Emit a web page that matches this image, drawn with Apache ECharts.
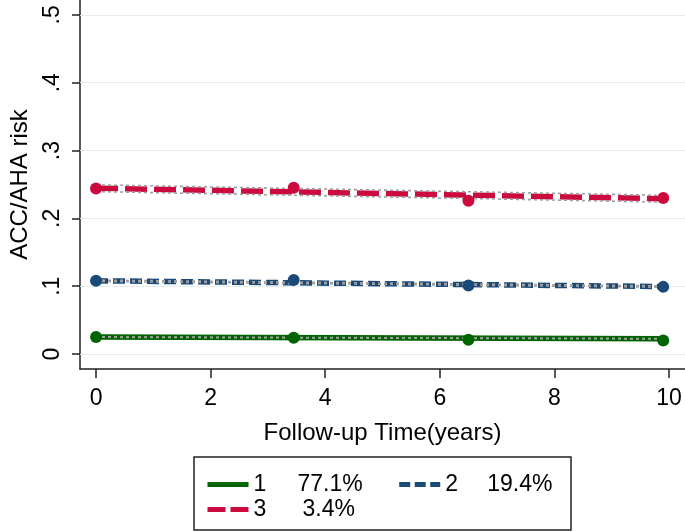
<!DOCTYPE html>
<html>
<head>
<meta charset="utf-8">
<script src="https://cdn.jsdelivr.net/npm/echarts@6/dist/echarts.min.js"></script>
<style>html,body{margin:0;padding:0;background:#fff}#c{width:685px;height:532px}</style>
</head>
<body>
<div id="c"></div>
<script>
// ---- data ----
const obsTime = [0, 3.45, 6.5, 9.9];
const obs1 = [0.025, 0.024, 0.021, 0.020];
const obs2 = [0.108, 0.109, 0.101, 0.099];
const obs3 = [0.244, 0.245, 0.226, 0.230];
const fitTime = [0, 9.9];
const fit1 = [0.025, 0.0225];
const fit2 = [0.108, 0.0995];
const fit3 = [0.2445, 0.229];
const fit1Lo = [0.0247, 0.0222];
const fit1Hi = [0.0253, 0.0228];
const fit2Lo = [0.1070, 0.0985];
const fit2Hi = [0.1090, 0.1005];
const fit3Lo = [0.2395, 0.224];
const fit3Hi = [0.2495, 0.234];
const xTicks = [0, 2, 4, 6, 8, 10];
const yTicks = [0, 0.1, 0.2, 0.3, 0.4, 0.5];
const yTickLabels = ['0', '.1', '.2', '.3', '.4', '.5'];
const groupNames = ['1', '2', '3'];
const groupPct = ['77.1%', '19.4%', '3.4%'];

const colors = ['#006400', '#1b4a78', '#cc0a3e'];
const dashes = ['solid', [12, 5], [22, 7]];
const legendDashes = ['solid', [11, 4.5], [18, 5]];
const FONT = 'Liberation Sans, Arial, sans-serif';

function pairs(xs, ys) { return xs.map((x, i) => [x, ys[i]]); }

const fits = [fit1, fit2, fit3];
const los = [fit1Lo, fit2Lo, fit3Lo];
const his = [fit1Hi, fit2Hi, fit3Hi];
const obs = [obs1, obs2, obs3];

const series = [];
for (let g = 0; g < 3; g++) {
  series.push({
    name: groupNames[g], type: 'line', data: pairs(fitTime, fits[g]),
    symbol: 'none', z: 2,
    lineStyle: { color: colors[g], width: 5.5, type: dashes[g], cap: 'butt' },
    itemStyle: { color: colors[g] }
  });
  [los[g], his[g]].forEach(arr => series.push({
    name: 'ci' + g, type: 'line', data: pairs(fitTime, arr), symbol: 'none', z: 3,
    lineStyle: { color: '#a0a0a0', width: 1.6, type: [3, 3] }
  }));
  series.push({
    name: 'obs' + g, type: 'scatter', data: pairs(obsTime, obs[g]),
    symbol: 'circle', symbolSize: 12, z: 4,
    itemStyle: { color: colors[g], opacity: 1 }
  });
}

const padW = { '1': 44, '2': 42, '3': 49 };
function fmt(name) {
  const i = groupNames.indexOf(name);
  return '{n' + name + '|' + name + '}{p|' + groupPct[i] + '}';
}
const rich = { p: { fontSize: 23, fontFamily: FONT, color: '#000' } };
groupNames.forEach(n => rich['n' + n] = { width: padW[n], fontSize: 23, fontFamily: FONT, color: '#000' });

function makeLegend(idx, top) {
  return {
    orient: 'horizontal', left: 205, top: top,
    itemWidth: 41, itemHeight: 14, itemGap: 34, padding: 0,
    formatter: fmt, selectedMode: false,
    textStyle: { fontSize: 23, fontFamily: FONT, color: '#000', rich: rich },
    data: idx.map(g => ({
      name: groupNames[g],
      itemStyle: { opacity: 0 },
      lineStyle: { width: 5, type: legendDashes[g], color: colors[g], opacity: 1 }
    }))
  };
}

const chart = echarts.init(document.getElementById('c'), null, { renderer: 'canvas' });
chart.setOption({
  animation: false,
  backgroundColor: '#fff',
  grid: { left: 80, right: 0, top: 0, bottom: 163, containLabel: false },
  xAxis: {
    type: 'value', min: -0.28, max: 10.28,
    name: 'Follow-up Time(years)', nameLocation: 'middle', nameGap: 52,
    nameTextStyle: { fontSize: 24, fontFamily: FONT, color: '#000' },
    axisLine: { show: true, onZero: false, lineStyle: { color: '#222', width: 1.5 } },
    axisTick: { show: true, length: 9, customValues: xTicks, lineStyle: { color: '#222', width: 1.5 } },
    axisLabel: { customValues: xTicks, margin: 18, fontSize: 23, fontFamily: FONT, color: '#000' },
    splitLine: { show: false }
  },
  yAxis: {
    type: 'value', min: -0.0221, max: 0.522,
    name: 'ACC/AHA risk', nameLocation: 'middle', nameGap: 48,
    nameTextStyle: { fontSize: 24, fontFamily: FONT, color: '#000' },
    axisLine: { show: true, onZero: false, lineStyle: { color: '#222', width: 1.5 } },
    axisTick: { show: true, length: 8, customValues: yTicks, lineStyle: { color: '#222', width: 1.5 } },
    axisLabel: {
      customValues: yTicks, rotate: 90, margin: 16, fontSize: 23, fontFamily: FONT, color: '#000',
      formatter: v => { const i = yTicks.findIndex(t => Math.abs(t - v) < 1e-9); return i >= 0 ? yTickLabels[i] : ''; }
    },
    splitLine: { show: false }
  },
  legend: [makeLegend([0, 1], 473), makeLegend([2], 498)],
  graphic: [{
    type: 'rect', shape: { x: 194, y: 457, width: 377, height: 73 },
    style: { fill: 'none', stroke: '#222', lineWidth: 1.5 }, z: 10
  }],
  series: series.concat([{
    name: 'grid', type: 'line', data: [], silent: true,
    markLine: {
      silent: true, symbol: 'none', label: { show: false }, z: 1,
      lineStyle: { color: '#e3edf1', width: 1.2, type: 'solid' },
      data: yTicks.map(v => ({ yAxis: v }))
    }
  }])
});
</script>
</body>
</html>
